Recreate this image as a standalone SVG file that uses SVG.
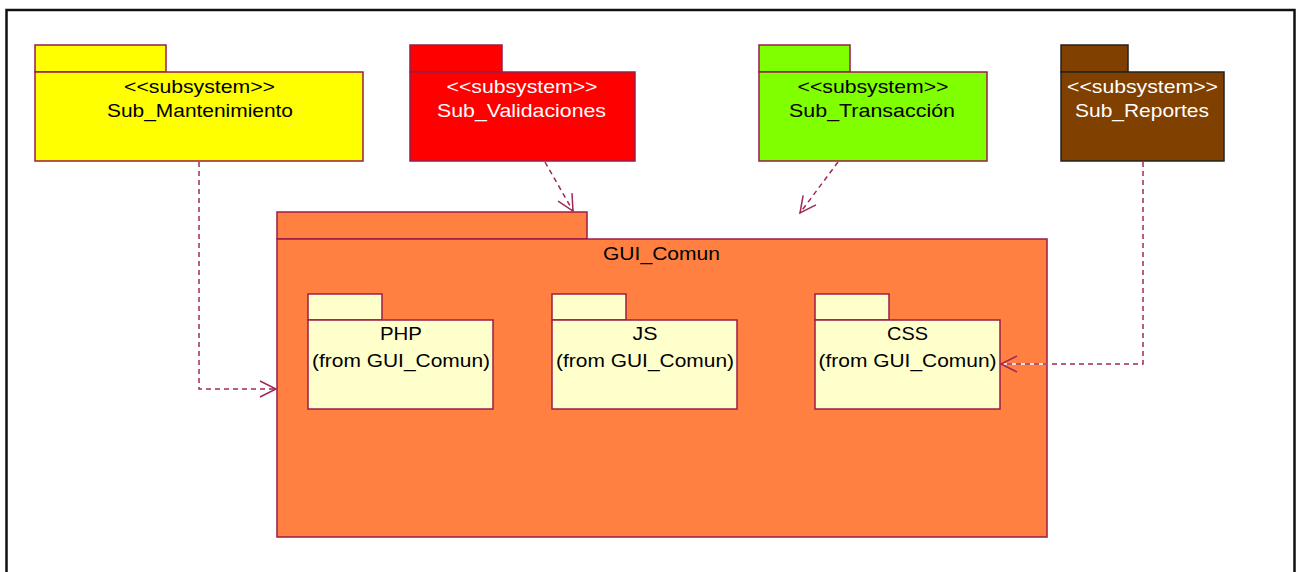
<svg xmlns="http://www.w3.org/2000/svg" width="1302" height="572" viewBox="0 0 1302 572">
<defs>
<style>
.pk{stroke:#9b1c48;stroke-width:1.5}
.t{font-family:"Liberation Sans",Arial,sans-serif;font-size:19px;text-anchor:middle}
.bk{fill:#000}
.wh{fill:#ffffff}
.con{fill:none;stroke:#a02858;stroke-width:1.5;stroke-dasharray:5,4}
.bg{fill:none;stroke:#ffffff;stroke-width:1.5}
</style>
<marker id="arr" markerWidth="20" markerHeight="20" refX="17" refY="9" orient="auto" markerUnits="userSpaceOnUse">
<path d="M1,1 L17,9 L1,17" fill="none" stroke="#a02858" stroke-width="1.5"/>
</marker>
</defs>
<rect width="1302" height="572" fill="#ffffff"/>
<rect x="6.5" y="10" width="1288" height="620" fill="none" stroke="#111" stroke-width="2.5"/>

<g id="Sub_Mantenimiento">
<rect class="pk" x="35" y="45" width="131" height="27" fill="#ffff00"/>
<rect class="pk" x="35" y="72" width="328" height="89" fill="#ffff00"/>
<text class="t bk" x="199.5" y="93" textLength="151" lengthAdjust="spacingAndGlyphs">&lt;&lt;subsystem&gt;&gt;</text>
<text class="t bk" x="200" y="117" textLength="186" lengthAdjust="spacingAndGlyphs">Sub_Mantenimiento</text>
</g>

<g id="Sub_Validaciones">
<rect class="pk" x="410" y="45" width="92" height="27" fill="#ff0000"/>
<rect class="pk" x="410" y="72" width="225" height="89" fill="#ff0000"/>
<text class="t wh" x="522" y="93" textLength="151" lengthAdjust="spacingAndGlyphs">&lt;&lt;subsystem&gt;&gt;</text>
<text class="t wh" x="521.5" y="117" textLength="169" lengthAdjust="spacingAndGlyphs">Sub_Validaciones</text>
</g>

<g id="Sub_Transaccion">
<rect class="pk" x="759" y="45" width="91" height="27" fill="#80ff00"/>
<rect class="pk" x="759" y="72" width="228" height="89" fill="#80ff00"/>
<text class="t bk" x="873" y="93" textLength="151" lengthAdjust="spacingAndGlyphs">&lt;&lt;subsystem&gt;&gt;</text>
<text class="t bk" x="872" y="117" textLength="166" lengthAdjust="spacingAndGlyphs">Sub_Transacción</text>
</g>

<g id="Sub_Reportes">
<rect x="1061" y="45" width="67" height="27" fill="#804000" stroke="#222" stroke-width="1.5"/>
<rect x="1061" y="72" width="163" height="89" fill="#804000" stroke="#222" stroke-width="1.5"/>
<text class="t wh" x="1142.5" y="93" textLength="151" lengthAdjust="spacingAndGlyphs">&lt;&lt;subsystem&gt;&gt;</text>
<text class="t wh" x="1142" y="117" textLength="134" lengthAdjust="spacingAndGlyphs">Sub_Reportes</text>
</g>

<g id="GUI_Comun">
<rect class="pk" x="277" y="212" width="310" height="27" fill="#ff8040"/>
<rect class="pk" x="277" y="239" width="770" height="298" fill="#ff8040"/>
<text class="t bk" x="661.5" y="260" textLength="117" lengthAdjust="spacingAndGlyphs">GUI_Comun</text>
</g>

<g id="PHP">
<rect class="pk" x="308" y="294" width="74" height="26" fill="#ffffcc"/>
<rect class="pk" x="308" y="320" width="185" height="89" fill="#ffffcc"/>
<text class="t bk" x="401" y="340" textLength="42" lengthAdjust="spacingAndGlyphs">PHP</text>
<text class="t bk" x="401" y="367" textLength="178" lengthAdjust="spacingAndGlyphs">(from GUI_Comun)</text>
</g>

<g id="JS">
<rect class="pk" x="552" y="294" width="74" height="26" fill="#ffffcc"/>
<rect class="pk" x="552" y="320" width="185" height="89" fill="#ffffcc"/>
<text class="t bk" x="645" y="340" textLength="25" lengthAdjust="spacingAndGlyphs">JS</text>
<text class="t bk" x="645" y="367" textLength="178" lengthAdjust="spacingAndGlyphs">(from GUI_Comun)</text>
</g>

<g id="CSS">
<rect class="pk" x="815" y="294" width="74" height="26" fill="#ffffcc"/>
<rect class="pk" x="815" y="320" width="185" height="89" fill="#ffffcc"/>
<text class="t bk" x="907.5" y="340" textLength="41" lengthAdjust="spacingAndGlyphs">CSS</text>
<text class="t bk" x="907.5" y="367" textLength="178" lengthAdjust="spacingAndGlyphs">(from GUI_Comun)</text>
</g>

<g id="connectors">
<path class="bg" d="M1143,364 L1001,364"/>
<path class="con" d="M199,162 L199,389 L276,389" marker-end="url(#arr)"/>
<path class="con" d="M545,162 L573,211" marker-end="url(#arr)"/>
<path class="con" d="M838,162 L800,213" marker-end="url(#arr)"/>
<path class="con" d="M1143,162 L1143,364 L1001,364" marker-end="url(#arr)"/>
</g>
</svg>
